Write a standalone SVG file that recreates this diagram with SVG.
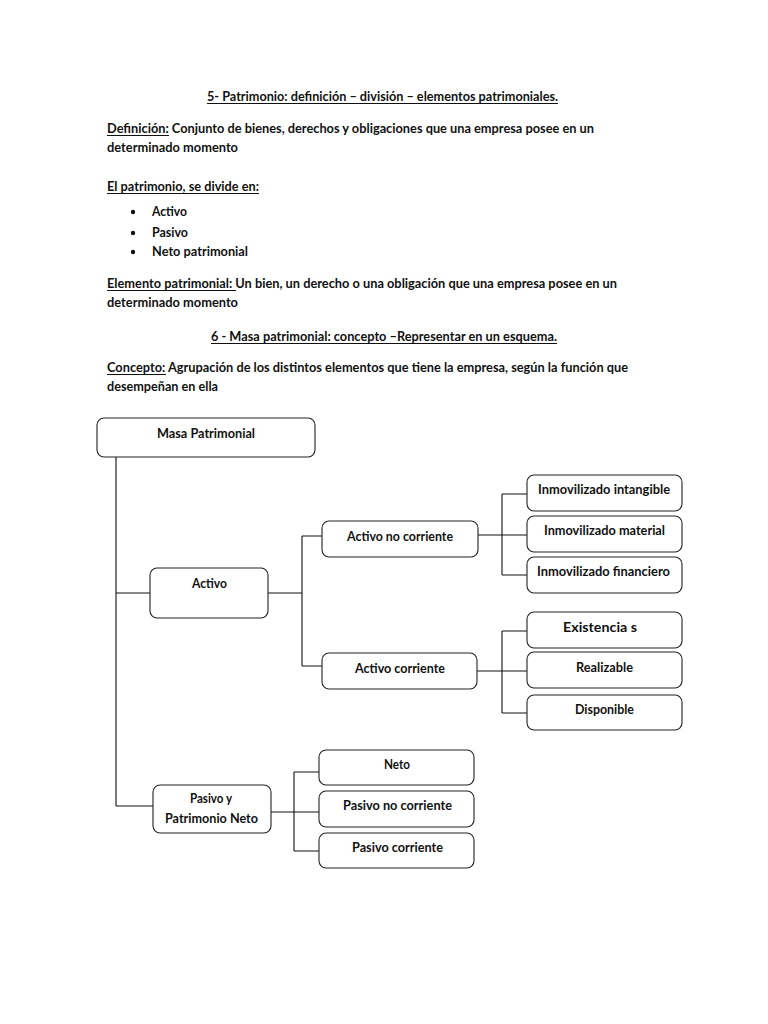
<svg xmlns="http://www.w3.org/2000/svg" width="768" height="1024" viewBox="0 0 768 1024">
<style>
text{font-family:Lato,"Liberation Sans",sans-serif;font-weight:bold;font-size:14px;fill:#111}
.b{fill:#fff;stroke:#222;stroke-width:1.1}
.u{stroke:#111;stroke-width:1}
.l{fill:none;stroke:#111;stroke-width:1.1}
</style>
<rect width="768" height="1024" fill="#fff"/>
<g id="text">
<text x="207" y="101" textLength="351" lengthAdjust="spacingAndGlyphs">5- Patrimonio: definición – división – elementos patrimoniales.</text>
<line class="u" x1="207" y1="103.5" x2="558" y2="103.5"/>
<text x="107" y="133" textLength="487" lengthAdjust="spacingAndGlyphs">Definición: Conjunto de bienes, derechos y obligaciones que una empresa  posee en un</text>
<line class="u" x1="107" y1="135.5" x2="169" y2="135.5"/>
<text x="107" y="152" textLength="131" lengthAdjust="spacingAndGlyphs">determinado momento</text>
<text x="107" y="191" textLength="152" lengthAdjust="spacingAndGlyphs">El patrimonio, se divide en:</text>
<line class="u" x1="107" y1="193.5" x2="259" y2="193.5"/>
<circle cx="133" cy="212" r="2.2" fill="#111"/>
<circle cx="133" cy="233" r="2.2" fill="#111"/>
<circle cx="133" cy="252" r="2.2" fill="#111"/>
<text x="152" y="216" textLength="35" lengthAdjust="spacingAndGlyphs">Activo</text>
<text x="152" y="237" textLength="36" lengthAdjust="spacingAndGlyphs">Pasivo</text>
<text x="152" y="256" textLength="96" lengthAdjust="spacingAndGlyphs">Neto patrimonial</text>
<text x="107" y="288" textLength="510" lengthAdjust="spacingAndGlyphs">Elemento patrimonial: Un bien, un derecho o una obligación que una empresa posee en un</text>
<line class="u" x1="107" y1="290.5" x2="236" y2="290.5"/>
<text x="107" y="307" textLength="131" lengthAdjust="spacingAndGlyphs">determinado momento</text>
<text x="211" y="341" textLength="346" lengthAdjust="spacingAndGlyphs">6 - Masa patrimonial: concepto –Representar en un esquema.</text>
<line class="u" x1="211" y1="343.5" x2="557" y2="343.5"/>
<text x="107" y="372" textLength="521" lengthAdjust="spacingAndGlyphs">Concepto: Agrupación de los distintos elementos que tiene la empresa,  según la función que</text>
<line class="u" x1="107" y1="374.5" x2="166" y2="374.5"/>
<text x="107" y="391" textLength="111" lengthAdjust="spacingAndGlyphs">desempeñan en ella</text>
</g>
<g id="connectors" class="l">
<path d="M116 457V806M116 593H150M268 593H302M302 536V666M302 536H322M302 666H322"/>
<path d="M478 535H527M502 494V575M502 494H527M502 575H527"/>
<path d="M477 671H527M502 631V713M502 631H527M502 713H527"/>
<path d="M116 806H153M271 812H319M294 772V851M294 772H319M294 851H319"/>
</g>
<g id="masa"><rect class="b" x="97" y="418" width="218" height="39" rx="7"/><text x="157" y="438" textLength="98" lengthAdjust="spacingAndGlyphs">Masa Patrimonial</text></g>
<g id="activo"><rect class="b" x="150" y="568" width="118" height="50" rx="7"/><text x="192" y="588" textLength="35" lengthAdjust="spacingAndGlyphs">Activo</text></g>
<g id="anc"><rect class="b" x="322" y="521" width="156" height="36" rx="7"/><text x="347" y="541" textLength="106" lengthAdjust="spacingAndGlyphs">Activo no corriente</text></g>
<g id="ac"><rect class="b" x="322" y="653" width="155" height="36" rx="7"/><text x="355" y="673" textLength="90" lengthAdjust="spacingAndGlyphs">Activo corriente</text></g>
<g id="ii"><rect class="b" x="527" y="475" width="155" height="36" rx="7"/><text x="538" y="494" textLength="132" lengthAdjust="spacingAndGlyphs">Inmovilizado intangible</text></g>
<g id="im"><rect class="b" x="527" y="516" width="155" height="36" rx="7"/><text x="544" y="535" textLength="121" lengthAdjust="spacingAndGlyphs">Inmovilizado material</text></g>
<g id="if"><rect class="b" x="527" y="557" width="155" height="36" rx="7"/><text x="537" y="576" textLength="133" lengthAdjust="spacingAndGlyphs">Inmovilizado financiero</text></g>
<g id="ex"><rect class="b" x="527" y="612" width="155" height="36" rx="7"/><text x="563" y="632" textLength="74" lengthAdjust="spacingAndGlyphs">Existencia s</text></g>
<g id="re"><rect class="b" x="527" y="652" width="155" height="36" rx="7"/><text x="576" y="672" textLength="57" lengthAdjust="spacingAndGlyphs">Realizable</text></g>
<g id="di"><rect class="b" x="527" y="695" width="155" height="35" rx="7"/><text x="575" y="714" textLength="59" lengthAdjust="spacingAndGlyphs">Disponible</text></g>
<g id="pasivo"><rect class="b" x="153" y="785" width="118" height="48" rx="7"/><text x="190" y="803" textLength="42" lengthAdjust="spacingAndGlyphs">Pasivo y</text><text x="165" y="823" textLength="93" lengthAdjust="spacingAndGlyphs">Patrimonio Neto</text></g>
<g id="neto"><rect class="b" x="319" y="750" width="155" height="35" rx="7"/><text x="384" y="769" textLength="26" lengthAdjust="spacingAndGlyphs">Neto</text></g>
<g id="pnc"><rect class="b" x="319" y="791" width="155" height="36" rx="7"/><text x="343" y="810" textLength="109" lengthAdjust="spacingAndGlyphs">Pasivo no corriente</text></g>
<g id="pc"><rect class="b" x="319" y="833" width="155" height="35" rx="7"/><text x="352" y="852" textLength="91" lengthAdjust="spacingAndGlyphs">Pasivo corriente</text></g>
</svg>
